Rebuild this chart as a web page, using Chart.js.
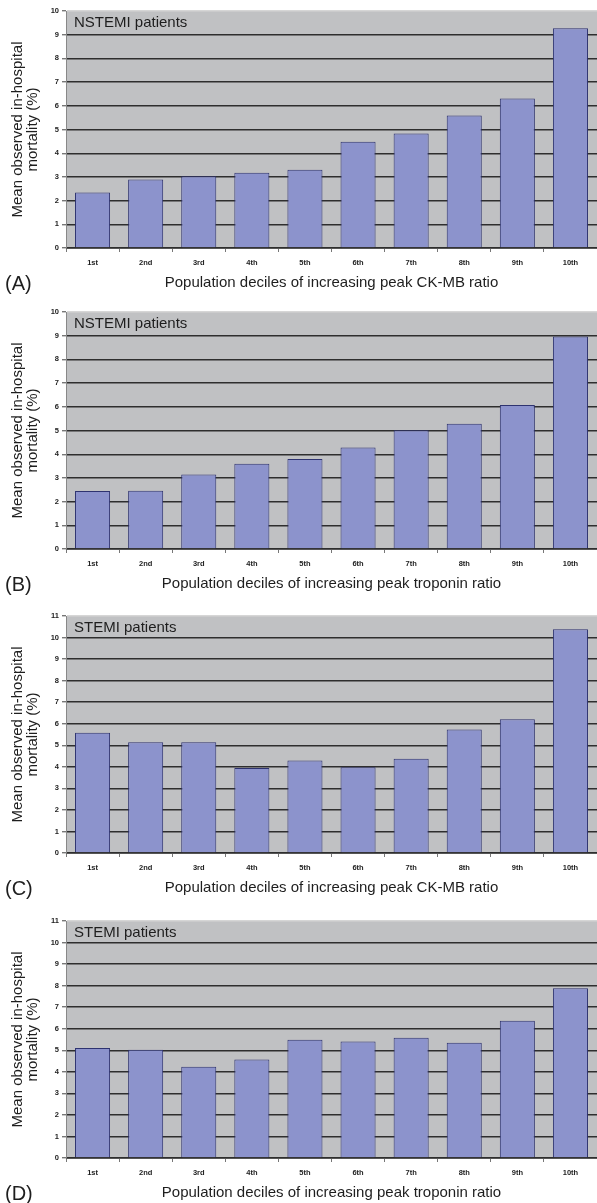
<!DOCTYPE html>
<html>
<head>
<meta charset="utf-8">
<script src="https://cdn.jsdelivr.net/npm/chart.js@4.4.1/dist/chart.umd.min.js"></script>
<style>
  html, body { margin: 0; padding: 0; background: #ffffff; overflow: hidden; }
  .panel { position: absolute; left: 0; width: 597px; height: 302px; }
</style>
</head>
<body>
<div class="panel" style="top:0px"><canvas id="chartA" width="597" height="302"></canvas></div>
<div class="panel" style="top:301px"><canvas id="chartB" width="597" height="302"></canvas></div>
<div class="panel" style="top:605px"><canvas id="chartC" width="597" height="302"></canvas></div>
<div class="panel" style="top:910px"><canvas id="chartD" width="597" height="302"></canvas></div>
<script>
const deciles = ["1st", "2nd", "3rd", "4th", "5th", "6th", "7th", "8th", "9th", "10th"];

// mean observed in-hospital mortality (%) per decile
const nstemiCkmb = [2.34, 2.89, 3.03, 3.18, 3.30, 4.48, 4.83, 5.59, 6.31, 9.27];
const nstemiTroponin = [2.45, 2.46, 3.14, 3.60, 3.80, 4.28, 5.01, 5.29, 6.08, 8.97];
const stemiCkmb = [5.58, 5.14, 5.14, 3.95, 4.29, 3.98, 4.37, 5.73, 6.21, 10.38];
const stemiTroponin = [5.10, 5.02, 4.23, 4.57, 5.49, 5.41, 5.58, 5.35, 6.37, 7.88];

const panelLetters = ["(A)", "(B)", "(C)", "(D)"];
const panelNotes = ["NSTEMI patients", "NSTEMI patients", "STEMI patients", "STEMI patients"];
const panelYMax = [10, 10, 11, 11];
const xTitles = [
    "Population deciles of increasing peak CK-MB ratio",
    "Population deciles of increasing peak troponin ratio",
    "Population deciles of increasing peak CK-MB ratio",
    "Population deciles of increasing peak troponin ratio"
];
const yTitle = ["Mean observed in-hospital", "mortality (%)"];

const FONT = '"Liberation Sans", Arial, sans-serif';

// grey plot background, panel letter and the note inside the plot
const panelDecor = {
    id: "panelDecor",
    beforeDraw(chart) {
        const { ctx, chartArea } = chart;
        ctx.save();
        ctx.fillStyle = "#c0c1c3";
        ctx.fillRect(chartArea.left, chartArea.top, chartArea.right - chartArea.left, chartArea.bottom - chartArea.top);
        ctx.restore();
    },
    afterDraw(chart, args, opts) {
        const { ctx, chartArea } = chart;
        ctx.save();
        ctx.fillStyle = "#1e1e1e";
        ctx.textBaseline = "middle";
        ctx.textAlign = "left";
        ctx.font = "15px " + FONT;
        ctx.fillText(opts.note, chartArea.left + 8, chartArea.top + 12);
        ctx.font = "20px " + FONT;
        ctx.fillText(opts.letter, 5, chartArea.bottom + 36);
        ctx.restore();
    }
};

function createPanel(id, values, idx) {
    const yMax = panelYMax[idx];
    return new Chart(document.getElementById(id), {
        type: "bar",
        data: {
            labels: deciles,
            datasets: [{
                data: values,
                backgroundColor: "#8c93cc",
                borderColor: "#2e3370",
                borderWidth: 1,
                barPercentage: 0.66,
                categoryPercentage: 1
            }]
        },
        options: {
            responsive: false,
            animation: false,
            layout: { padding: { top: 11, left: 0, right: 0, bottom: 0 } },
            plugins: {
                legend: { display: false },
                tooltip: { enabled: false },
                panelDecor: { letter: panelLetters[idx], note: panelNotes[idx] }
            },
            scales: {
                x: {
                    grid: { drawOnChartArea: false, drawTicks: true, tickLength: 4, color: "#777" },
                    border: { color: "#555", width: 1 },
                    ticks: {
                        color: "#222", padding: 6, maxRotation: 0, autoSkip: false,
                        font: { size: 7.5, weight: "bold", family: FONT }
                    },
                    title: {
                        display: true, text: xTitles[idx], color: "#1e1e1e",
                        font: { size: 15, family: FONT, lineHeight: 1 },
                        padding: { top: 0, bottom: 11.5 }
                    },
                    afterFit(scale) { scale.height = 54; }
                },
                y: {
                    min: 0, max: yMax,
                    ticks: {
                        stepSize: 1, color: "#222", padding: 3,
                        font: { size: 7.5, weight: "bold", family: FONT }
                    },
                    grid: {
                        color: (c) => (c.tick && c.tick.value === yMax) ? "#d6d6d6" : "#2e2e2e",
                        lineWidth: 1.4, tickLength: 4, tickColor: "#777"
                    },
                    border: { color: "#888", width: 1 },
                    title: {
                        display: true, text: yTitle, color: "#1e1e1e",
                        font: { size: 15, family: FONT, lineHeight: 1 },
                        padding: { top: 10.5, bottom: 0 }
                    },
                    afterFit(scale) { scale.width = 66; }
                }
            }
        },
        plugins: [panelDecor]
    });
}

createPanel("chartA", nstemiCkmb, 0);
createPanel("chartB", nstemiTroponin, 1);
createPanel("chartC", stemiCkmb, 2);
createPanel("chartD", stemiTroponin, 3);
</script>
</body>
</html>
